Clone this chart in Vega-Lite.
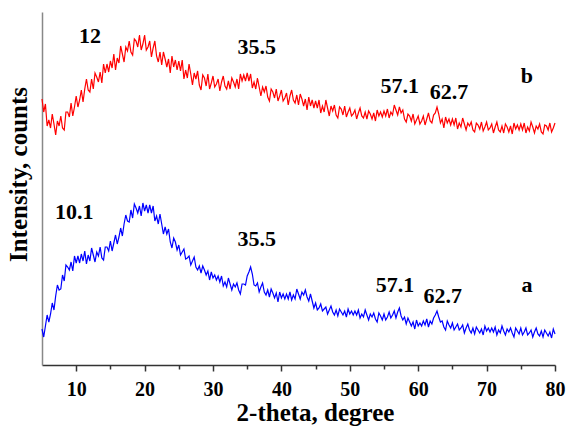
{
"$schema": "https://vega.github.io/schema/vega-lite/v6.json",
"autosize": "none",
"width": 513,
"height": 353,
"padding": {"left": 42, "top": 12, "right": 14, "bottom": 70},
"background": "white",
"config": {"view": {"stroke": null}, "axis": {"grid": false}},
"datasets": {
"xrd": [
{"t":5,"a":36,"b":266},{"t":5.25,"a":28,"b":253},{"t":5.5,"a":39,"b":261},{"t":5.75,"a":50,"b":239},
{"t":6,"a":43,"b":245},{"t":6.25,"a":51,"b":237},{"t":6.5,"a":62,"b":251},{"t":6.75,"a":55,"b":241},
{"t":7,"a":69,"b":230},{"t":7.25,"a":80,"b":244},{"t":7.5,"a":75,"b":239},{"t":7.75,"a":76,"b":249},
{"t":8,"a":90,"b":237},{"t":8.25,"a":84,"b":235},{"t":8.5,"a":100,"b":253},{"t":8.75,"a":98,"b":253},
{"t":9,"a":95,"b":248},{"t":9.25,"a":103,"b":262},{"t":9.5,"a":94,"b":249},{"t":9.75,"a":109,"b":258},
{"t":10,"a":102,"b":269},{"t":10.25,"a":109,"b":258},{"t":10.5,"a":102,"b":265},{"t":10.75,"a":111,"b":275},
{"t":11,"a":104,"b":263},{"t":11.25,"a":114,"b":276},{"t":11.5,"a":101,"b":286},{"t":11.75,"a":110,"b":275},
{"t":12,"a":104,"b":273},{"t":12.25,"a":117,"b":286},{"t":12.5,"a":110,"b":276},{"t":12.75,"a":103,"b":292},
{"t":13,"a":113,"b":288},{"t":13.25,"a":109,"b":283},{"t":13.5,"a":118,"b":293},{"t":13.75,"a":107,"b":282},
{"t":14,"a":105,"b":301},{"t":14.25,"a":118,"b":292},{"t":14.5,"a":118,"b":301},{"t":14.75,"a":114,"b":293},
{"t":15,"a":124,"b":304},{"t":15.25,"a":114,"b":297},{"t":15.5,"a":122,"b":311},{"t":15.75,"a":130,"b":295},
{"t":16,"a":121,"b":307},{"t":16.25,"a":128,"b":302},{"t":16.5,"a":137,"b":319},{"t":16.75,"a":129,"b":311},
{"t":17,"a":141,"b":303},{"t":17.25,"a":150,"b":318},{"t":17.5,"a":144,"b":314},{"t":17.75,"a":143,"b":324},
{"t":18,"a":155,"b":313},{"t":18.25,"a":147,"b":310},{"t":18.5,"a":161,"b":326},{"t":18.75,"a":157,"b":324},
{"t":19,"a":152,"b":318},{"t":19.25,"a":159,"b":330},{"t":19.5,"a":149,"b":315},{"t":19.75,"a":162,"b":321},
{"t":20,"a":154,"b":330},{"t":20.25,"a":160,"b":315},{"t":20.5,"a":152,"b":318},{"t":20.75,"a":160,"b":324},
{"t":21,"a":152,"b":308},{"t":21.25,"a":159,"b":317},{"t":21.5,"a":144,"b":324},{"t":21.75,"a":149,"b":309},
{"t":22,"a":141,"b":303},{"t":22.25,"a":151,"b":313},{"t":22.5,"a":141,"b":300},{"t":22.75,"a":131,"b":313},
{"t":23,"a":138,"b":306},{"t":23.25,"a":131,"b":298},{"t":23.5,"a":136,"b":306},{"t":23.75,"a":123,"b":292},
{"t":24,"a":117,"b":309},{"t":24.25,"a":127,"b":298},{"t":24.5,"a":123,"b":305},{"t":24.75,"a":115,"b":295},
{"t":25,"a":120,"b":304},{"t":25.25,"a":110,"b":294},{"t":25.5,"a":113,"b":305},{"t":25.75,"a":116,"b":286},
{"t":26,"a":106,"b":295},{"t":26.25,"a":107,"b":287},{"t":26.5,"a":109,"b":301},{"t":26.75,"a":100,"b":291},
{"t":27,"a":104,"b":280},{"t":27.25,"a":108,"b":292},{"t":27.5,"a":98,"b":286},{"t":27.75,"a":95,"b":294},
{"t":28,"a":99,"b":280},{"t":28.25,"a":92,"b":275},{"t":28.5,"a":99,"b":290},{"t":28.75,"a":95,"b":287},
{"t":29,"a":90,"b":279},{"t":29.25,"a":94,"b":291},{"t":29.5,"a":85,"b":276},{"t":29.75,"a":93,"b":282},
{"t":30,"a":87,"b":289},{"t":30.25,"a":90,"b":278},{"t":30.5,"a":85,"b":281},{"t":30.75,"a":89,"b":286},
{"t":31,"a":83,"b":274},{"t":31.25,"a":89,"b":283},{"t":31.5,"a":79,"b":289},{"t":31.75,"a":83,"b":279},
{"t":32,"a":78,"b":276},{"t":32.25,"a":87,"b":284},{"t":32.5,"a":81,"b":276},{"t":32.75,"a":75,"b":287},
{"t":33,"a":81,"b":283},{"t":33.25,"a":78,"b":278},{"t":33.5,"a":82,"b":286},{"t":33.75,"a":75,"b":276},
{"t":34,"a":71,"b":291},{"t":34.25,"a":81,"b":284},{"t":34.5,"a":81,"b":290},{"t":34.75,"a":80,"b":284},
{"t":35,"a":89,"b":292},{"t":35.25,"a":93,"b":284},{"t":35.5,"a":98,"b":291},{"t":35.75,"a":91,"b":277},
{"t":36,"a":80,"b":283},{"t":36.25,"a":79,"b":276},{"t":36.5,"a":82,"b":287},{"t":36.75,"a":73,"b":278},
{"t":37,"a":78,"b":269},{"t":37.25,"a":82,"b":278},{"t":37.5,"a":73,"b":273},{"t":37.75,"a":70,"b":279},
{"t":38,"a":75,"b":268},{"t":38.25,"a":68,"b":264},{"t":38.5,"a":76,"b":276},{"t":38.75,"a":72,"b":273},
{"t":39,"a":67,"b":267},{"t":39.25,"a":72,"b":276},{"t":39.5,"a":63,"b":264},{"t":39.75,"a":73,"b":269},
{"t":40,"a":67,"b":275},{"t":40.25,"a":71,"b":264},{"t":40.5,"a":66,"b":267},{"t":40.75,"a":71,"b":272},
{"t":41,"a":66,"b":260},{"t":41.25,"a":73,"b":269},{"t":41.5,"a":65,"b":275},{"t":41.75,"a":70,"b":265},
{"t":42,"a":66,"b":262},{"t":42.25,"a":76,"b":270},{"t":42.5,"a":71,"b":260},{"t":42.75,"a":66,"b":271},
{"t":43,"a":73,"b":266},{"t":43.25,"a":70,"b":259},{"t":43.5,"a":75,"b":266},{"t":43.75,"a":68,"b":255},
{"t":44,"a":64,"b":268},{"t":44.25,"a":71,"b":259},{"t":44.5,"a":64,"b":265},{"t":44.75,"a":57,"b":257},
{"t":45,"a":62,"b":264},{"t":45.25,"a":55,"b":257},{"t":45.5,"a":57,"b":265},{"t":45.75,"a":61,"b":252},
{"t":46,"a":54,"b":259},{"t":46.25,"a":56,"b":253},{"t":46.5,"a":58,"b":265},{"t":46.75,"a":51,"b":257},
{"t":47,"a":55,"b":249},{"t":47.25,"a":59,"b":259},{"t":47.5,"a":53,"b":254},{"t":47.75,"a":50,"b":260},
{"t":48,"a":55,"b":250},{"t":48.25,"a":49,"b":247},{"t":48.5,"a":56,"b":258},{"t":48.75,"a":53,"b":256},
{"t":49,"a":50,"b":250},{"t":49.25,"a":54,"b":259},{"t":49.5,"a":48,"b":248},{"t":49.75,"a":56,"b":253},
{"t":50,"a":51,"b":257},{"t":50.25,"a":54,"b":249},{"t":50.5,"a":50,"b":251},{"t":50.75,"a":54,"b":255},
{"t":51,"a":50,"b":246},{"t":51.25,"a":55,"b":252},{"t":51.5,"a":47,"b":257},{"t":51.75,"a":51,"b":249},
{"t":52,"a":48,"b":247},{"t":52.25,"a":55,"b":253},{"t":52.5,"a":50,"b":246},{"t":52.75,"a":45,"b":254},
{"t":53,"a":51,"b":251},{"t":53.25,"a":48,"b":246},{"t":53.5,"a":52,"b":252},{"t":53.75,"a":46,"b":244},
{"t":54,"a":43,"b":255},{"t":54.25,"a":52,"b":249},{"t":54.5,"a":49,"b":253},{"t":54.75,"a":45,"b":248},
{"t":55,"a":51,"b":254},{"t":55.25,"a":45,"b":249},{"t":55.5,"a":48,"b":256},{"t":55.75,"a":53,"b":247},
{"t":56,"a":47,"b":253},{"t":56.25,"a":50,"b":250},{"t":56.5,"a":54,"b":260},{"t":56.75,"a":47,"b":255},
{"t":57,"a":53,"b":250},{"t":57.25,"a":57,"b":258},{"t":57.5,"a":49,"b":252},{"t":57.75,"a":45,"b":255},
{"t":58,"a":48,"b":246},{"t":58.25,"a":41,"b":243},{"t":58.5,"a":47,"b":251},{"t":58.75,"a":43,"b":249},
{"t":59,"a":39,"b":244},{"t":59.25,"a":43,"b":251},{"t":59.5,"a":36,"b":241},{"t":59.75,"a":45,"b":245},
{"t":60,"a":39,"b":249},{"t":60.25,"a":42,"b":241},{"t":60.5,"a":39,"b":244},{"t":60.75,"a":44,"b":249},
{"t":61,"a":40,"b":240},{"t":61.25,"a":46,"b":246},{"t":61.5,"a":38,"b":252},{"t":61.75,"a":44,"b":244},
{"t":62,"a":41,"b":242},{"t":62.25,"a":47,"b":250},{"t":62.5,"a":50,"b":252},{"t":62.75,"a":54,"b":258},
{"t":63,"a":48,"b":251},{"t":63.25,"a":43,"b":242},{"t":63.5,"a":44,"b":246},{"t":63.75,"a":38,"b":237},
{"t":64,"a":35,"b":248},{"t":64.25,"a":44,"b":242},{"t":64.5,"a":40,"b":246},{"t":64.75,"a":37,"b":240},
{"t":65,"a":42,"b":246},{"t":65.25,"a":35,"b":240},{"t":65.5,"a":38,"b":247},{"t":65.75,"a":41,"b":236},
{"t":66,"a":35,"b":242},{"t":66.25,"a":37,"b":238},{"t":66.5,"a":40,"b":247},{"t":66.75,"a":32,"b":241},
{"t":67,"a":37,"b":235},{"t":67.25,"a":41,"b":242},{"t":67.5,"a":35,"b":239},{"t":67.75,"a":32,"b":243},
{"t":68,"a":37,"b":235},{"t":68.25,"a":31,"b":233},{"t":68.5,"a":38,"b":242},{"t":68.75,"a":35,"b":240},
{"t":69,"a":32,"b":236},{"t":69.25,"a":36,"b":243},{"t":69.5,"a":30,"b":234},{"t":69.75,"a":39,"b":238},
{"t":70,"a":34,"b":243},{"t":70.25,"a":37,"b":235},{"t":70.5,"a":33,"b":237},{"t":70.75,"a":37,"b":241},
{"t":71,"a":33,"b":232},{"t":71.25,"a":38,"b":238},{"t":71.5,"a":30,"b":243},{"t":71.75,"a":35,"b":235},
{"t":72,"a":32,"b":233},{"t":72.25,"a":39,"b":239},{"t":72.5,"a":34,"b":232},{"t":72.75,"a":30,"b":241},
{"t":73,"a":36,"b":238},{"t":73.25,"a":33,"b":233},{"t":73.5,"a":37,"b":239},{"t":73.75,"a":32,"b":231},
{"t":74,"a":28,"b":242},{"t":74.25,"a":37,"b":236},{"t":74.5,"a":34,"b":240},{"t":74.75,"a":31,"b":235},
{"t":75,"a":37,"b":241},{"t":75.25,"a":30,"b":235},{"t":75.5,"a":33,"b":242},{"t":75.75,"a":37,"b":232},
{"t":76,"a":30,"b":238},{"t":76.25,"a":32,"b":234},{"t":76.5,"a":35,"b":243},{"t":76.75,"a":28,"b":238},
{"t":77,"a":33,"b":232},{"t":77.25,"a":37,"b":239},{"t":77.5,"a":31,"b":236},{"t":77.75,"a":29,"b":241},
{"t":78,"a":34,"b":233},{"t":78.25,"a":28,"b":231},{"t":78.5,"a":35,"b":240},{"t":78.75,"a":32,"b":239},
{"t":79,"a":29,"b":235},{"t":79.25,"a":33,"b":242},{"t":79.5,"a":27,"b":233},{"t":79.75,"a":36,"b":237},
{"t":80,"a":31,"b":242}
],
"notes": [
{"t":12.0,"v":322,"label":"12"},
{"t":36.4,"v":311,"label":"35.5"},
{"t":57.3,"v":272,"label":"57.1"},
{"t":64.5,"v":266,"label":"62.7"},
{"t":75.9,"v":282,"label":"b"},
{"t":9.7,"v":146,"label":"10.1"},
{"t":36.4,"v":119,"label":"35.5"},
{"t":56.6,"v":73,"label":"57.1"},
{"t":63.6,"v":62,"label":"62.7"},
{"t":75.9,"v":73,"label":"a"}
]
},
"resolve": {"axis": {"x": "independent"}},
"layer": [
{
"data": {"name": "xrd"},
"mark": {"type": "line", "color": "#ff0000", "strokeWidth": 1.2},
"encoding": {
"x": {"field": "t", "type": "quantitative", "scale": {"domain": [5, 80], "nice": false, "zero": false},
"axis": {"orient": "bottom", "values": [10,20,30,40,50,60,70,80], "format": "d",
"title": "2-theta, degree", "titleFont": "Liberation Serif", "titleFontSize": 25, "titleFontWeight": "bold", "titleColor": "#000",
"titleX": 273, "titleY": 55, "titleAlign": "center", "titleBaseline": "alphabetic",
"labelFont": "Liberation Serif", "labelFontSize": 20, "labelFontWeight": "bold", "labelColor": "#000",
"labelPadding": 8, "labelFlush": false, "labelOverlap": false,
"domainColor": "#333", "domainWidth": 1.5, "tickColor": "#333", "tickWidth": 1.5, "tickSize": 6, "grid": false}},
"y": {"field": "b", "type": "quantitative", "scale": {"domain": [0, 353], "nice": false},
"axis": {"title": "Intensity, counts", "ticks": false, "labels": false, "domainColor": "#888", "domainWidth": 1.5,
"titleFont": "Liberation Serif", "titleFontSize": 25, "titleFontWeight": "bold", "titleColor": "#000",
"titleAngle": -90, "titleX": -24, "titleY": 162, "titleAlign": "center", "titleBaseline": "middle", "grid": false}}
}
},
{
"data": {"name": "xrd"},
"mark": {"type": "line", "color": "#0000ff", "strokeWidth": 1.2},
"encoding": {
"x": {"field": "t", "type": "quantitative",
"axis": {"orient": "bottom", "values": [15,25,35,45,55,65,75], "labels": false, "domain": false, "title": null,
"tickColor": "#333", "tickWidth": 1.5, "tickSize": 4, "grid": false}},
"y": {"field": "a", "type": "quantitative", "title": "Intensity, counts"}
}
},
{
"data": {"name": "notes"},
"mark": {"type": "text", "font": "Liberation Serif", "fontSize": 22, "fontWeight": "bold", "color": "#000", "align": "center", "baseline": "alphabetic"},
"encoding": {
"x": {"field": "t", "type": "quantitative", "axis": null},
"y": {"field": "v", "type": "quantitative", "title": "Intensity, counts"},
"text": {"field": "label"}
}
}
]
}
